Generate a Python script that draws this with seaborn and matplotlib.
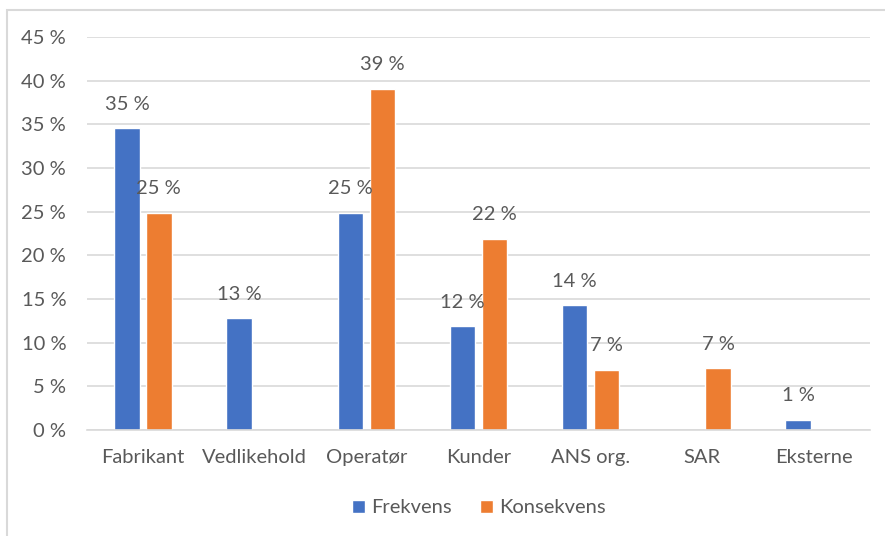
import matplotlib
matplotlib.use("Agg")
import matplotlib.pyplot as plt
from matplotlib.patches import Rectangle
import seaborn as sns
import pandas as pd

categories = ["Fabrikant", "Vedlikehold", "Operatør", "Kunder", "ANS org.", "SAR", "Eksterne"]
frekvens = [34.6, 12.8, 24.9, 11.9, 14.3, None, 1.2]
konsekvens = [24.9, None, 39.1, 21.9, 6.9, 7.1, None]
series_names = ["Frekvens", "Konsekvens"]
y_ticks = [0, 5, 10, 15, 20, 25, 30, 35, 40, 45]

colors = {"Frekvens": "#4472C4", "Konsekvens": "#ED7D31"}
text_color = "#595959"
grid_color = "#D9D9D9"
fs = 14.5

rows = []
for cat, f, k in zip(categories, frekvens, konsekvens):
    rows.append({"kategori": cat, "serie": series_names[0], "verdi": f})
    rows.append({"kategori": cat, "serie": series_names[1], "verdi": k})
df = pd.DataFrame(rows)

sns.set_theme(style="white")
plt.rcParams["font.family"] = ["Lato", "DejaVu Sans"]

fig = plt.figure(figsize=(8.85, 5.36), dpi=100)
ax = fig.add_axes([87 / 885, 1 - 430 / 536, (870 - 87) / 885, (430 - 37) / 536])

sns.barplot(data=df, x="kategori", y="verdi", hue="serie", order=categories,
            hue_order=series_names, palette=colors, width=0.57, gap=0.2,
            saturation=1, ax=ax, legend=True)

ax.set_ylim(0, 45)
ax.set_xlim(-0.5, len(categories) - 0.5)
ax.set_yticks(y_ticks)
ax.set_yticklabels([f"{t} %" for t in y_ticks])
ax.set_xlabel("")
ax.set_ylabel("")
ax.yaxis.grid(True, color=grid_color, linewidth=1.2)
ax.set_axisbelow(True)
for side in ["top", "right", "left"]:
    ax.spines[side].set_visible(False)
ax.spines["bottom"].set_color(grid_color)
ax.spines["bottom"].set_linewidth(1.2)
ax.tick_params(axis="y", length=0, pad=15, labelsize=fs, labelcolor=text_color)
ax.tick_params(axis="x", length=0, pad=14, labelsize=fs, labelcolor=text_color)

# value labels above each bar
for container in ax.containers:
    labels = []
    for v in container.datavalues:
        labels.append("" if pd.isna(v) else f"{round(v):.0f} %")
    ax.bar_label(container, labels=labels, padding=11, fontsize=fs, color=text_color)

leg = ax.legend(loc="center", bbox_to_anchor=(0.5, -0.198), ncol=2,
                frameon=False, fontsize=fs, handlelength=0.65, handleheight=0.65,
                handletextpad=0.3, columnspacing=1.4)
for t in leg.get_texts():
    t.set_color(text_color)

# chart area border
fig.add_artist(Rectangle((7 / 885, -0.1), 1.2, 1 - 10 / 536 + 0.1,
                         transform=fig.transFigure, fill=False,
                         edgecolor=grid_color, linewidth=1.5))

fig.savefig("out.png", dpi=100)
